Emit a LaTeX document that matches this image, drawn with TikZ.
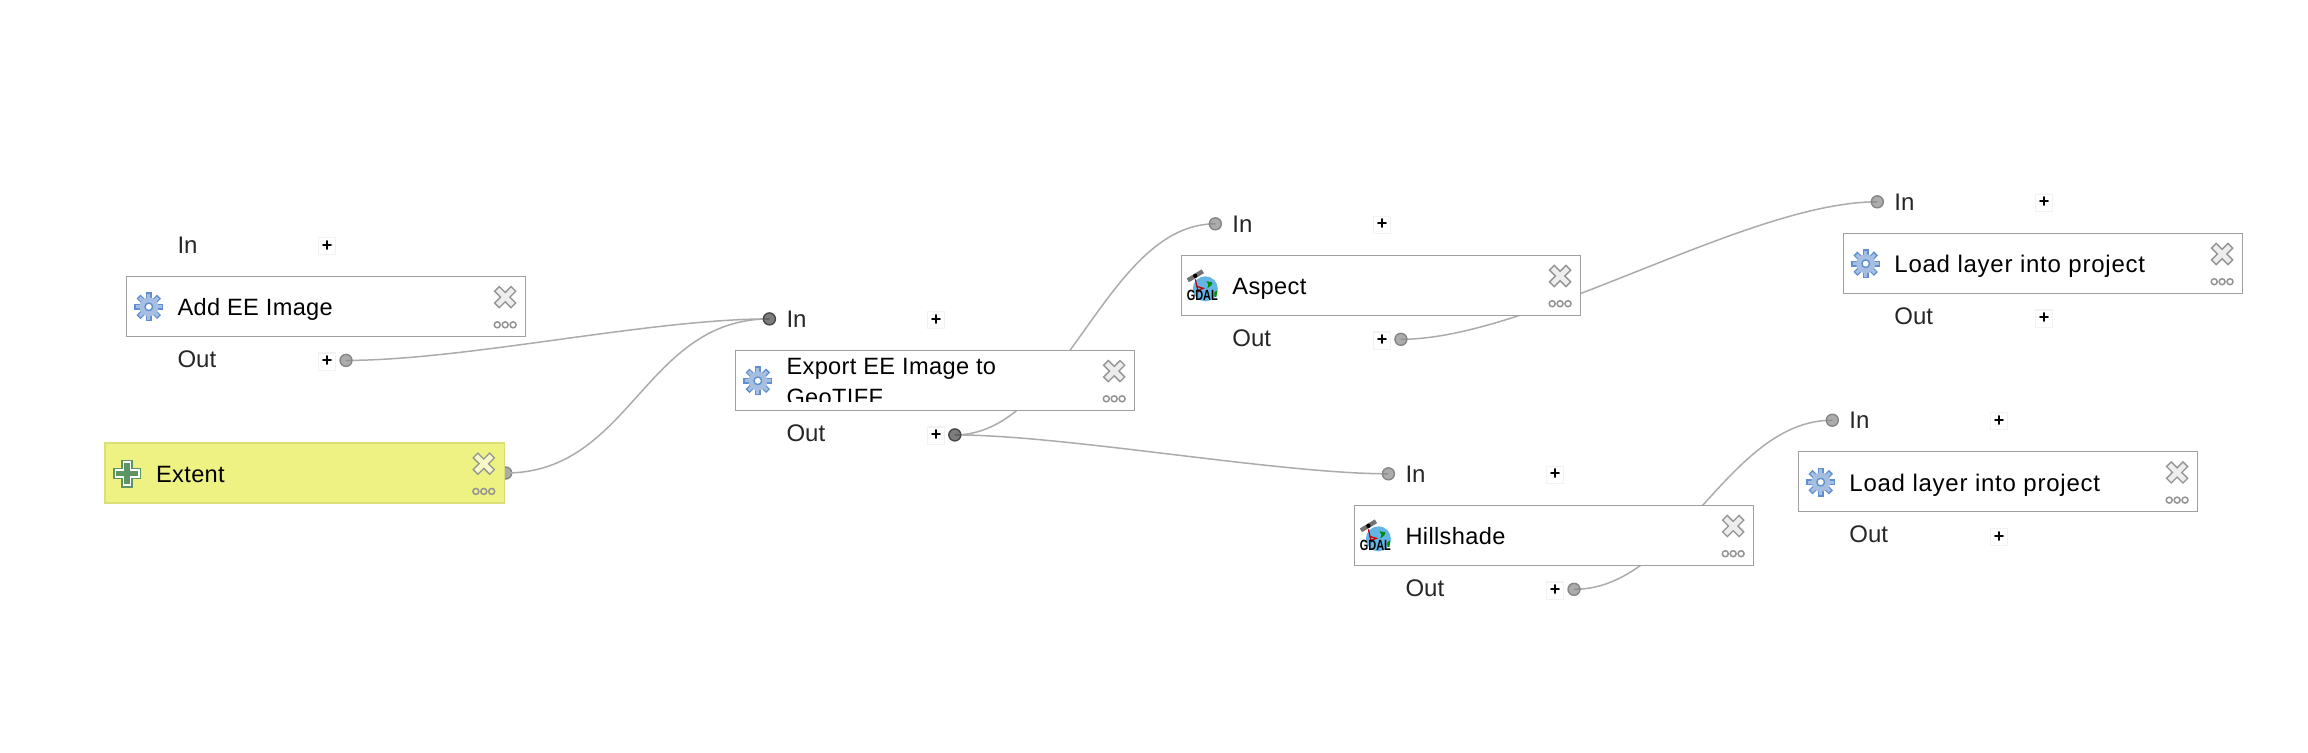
\documentclass[tikz,border=0pt]{standalone}
\usepackage{fontspec}
\setmainfont{Liberation Sans}
\usetikzlibrary{positioning,calc,backgrounds}
\definecolor{wiregray}{HTML}{ABABAB}
\definecolor{boxgray}{HTML}{A0A0A0}
\definecolor{icongray}{HTML}{949494}
\definecolor{extentfill}{HTML}{EEF283}
\definecolor{gearblue}{HTML}{5F8FD0}
\definecolor{gearfill}{HTML}{A5BEE2}
\definecolor{crossgreen}{HTML}{5C9464}
\definecolor{gdalblue}{HTML}{62B5E5}
\tikzset{
  box/.style={draw=boxgray, fill=white, line width=0.6pt, anchor=north west, inner sep=0pt, outer sep=0pt,
    minimum width=199.6pt, minimum height=30pt},
  title/.style={anchor=base west, inner sep=0pt, text=black,
    font=\fontsize{11.8}{14}\selectfont\addfontfeature{LetterSpace=1.5}},
  loadtitle/.style={title, font=\fontsize{12}{14}\selectfont\addfontfeature{LetterSpace=3.2}},
  lbl/.style={anchor=base west, inner sep=0pt, font=\fontsize{12}{14}\selectfont, text=black!85},
  plusbox/.style={draw=black!5, fill=white, line width=0.6pt, minimum size=8.6pt, inner sep=0pt,
    font=\fontsize{9}{9}\selectfont\bfseries},
  port/.style={circle, draw=black!48, fill=black!50, fill opacity=0.65, line width=0.7pt,
    minimum size=6pt, inner sep=0pt},
  portdark/.style={port, draw=black!72, fill=black!78},
  wire/.style={draw=wiregray, line width=0.75pt},
  pics/crossicon/.style={code={
      \foreach \a in {45,135}{\draw[icongray, line width=4pt, rotate=\a] (-12.3,0) -- (12.3,0);}
      \foreach \a in {45,135}{\draw[#1, line width=2.5pt, rotate=\a] (-10.8,0) -- (10.8,0);}
      \foreach \k in {-7.9,0,7.9}{\draw[icongray, line width=0.75pt] (\k,27.7) circle[radius=3];}
  }},
  pics/gearicon/.style={code={
      \foreach \a in {0,45,...,315}{\draw[gearblue, line width=2.8pt, rotate=\a] (0,0) -- (14.5,0);}
      \foreach \a in {0,45,...,315}{\draw[gearfill, line width=1.6pt, rotate=\a] (0,0) -- (13,0);}
      \fill[gearfill] (0,0) circle[radius=9.5];
      \draw[gearblue, fill=white, line width=0.7pt] (0,0) circle[radius=3.8];
  }},
  pics/addicon/.style={code={
      \foreach \a in {0,90}{\draw[crossgreen, line width=5.8pt, rotate=\a] (-14,0) -- (14,0);}
      \foreach \a in {0,90}{\draw[white, line width=4.3pt, rotate=\a] (-12.5,0) -- (12.5,0);}
      \foreach \a in {0,90}{\draw[crossgreen, line width=2.6pt, rotate=\a] (-10.8,0) -- (10.8,0);}
  }},
  pics/gdalicon/.style={code={
      \fill[gdalblue] (1,-3.5) circle[radius=12.5];
      \fill[green!55!black] (2,-11) -- (8,-10) -- (7,-7) -- (3,-4) -- (4,-8) -- cycle;
      \fill[green!55!black] (10,0) -- (13,-2) -- (12,5) -- (10,4) -- cycle;
      \draw[red!75!black, line width=0.6pt] (-9,-13) -- (-6,0);
      \draw[red!75!black, line width=0.6pt] (-8,-6) -- (-1,-4) -- (-6,-2);
      \draw[black!55, line width=2.2pt] (-16.5,-12) -- (-1.5,-21);
      \fill[black] (-9,-16.5) circle[radius=2.2];
  }},
}

\begin{document}
\begin{tikzpicture}[x=0.5pt,y=-0.5pt]
  \useasboundingbox (0,0) rectangle (2308,752);

  % model boxes
  \foreach \n/\x/\y in {add/126.4/276.4, export/735.4/350.4, aspect/1181.3/255.3, hillshade/1354.4/505.3,
      loada/1843.3/233.3, loadb/1798.3/451.7}{
    \node[box] (\n) at (\x,\y) {};
  }
  \node[box, draw=extentfill!92!black, fill=extentfill] (extent) at (105,443) {};

  % titles
  \foreach \n/\t in {add/Add EE Image, aspect/Aspect, hillshade/Hillshade, extent/Extent}{
    \node[title] (\n-title) at ($(\n.north west)+(50.7,39.4)$) {\t};
  }
  \foreach \n in {loada,loadb}{
    \node[loadtitle] (\n-title) at ($(\n.north west)+(50.7,39.4)$) {Load layer into project};
  }
  \begin{scope}
    \clip ($(export.north west)+(40,0)$) rectangle ($(export.north west)+(300,51.5)$);
    \node[title] (export-title) at ($(export.north west)+(50.7,24)$) {Export EE Image to};
    \node[title] (export-titleb) at ($(export.north west)+(50.7,54.8)$) {GeoTIFF};
  \end{scope}

  % icons
  \foreach \n in {add,export,loada,loadb}{
    \pic at ($(\n.north west)+(22.4,30.4)$) {gearicon};
  }
  \foreach \n in {aspect,hillshade}{
    \pic at ($(\n.north west)+(23,37)$) {gdalicon};
    \node[inner sep=0pt, anchor=base, xscale=0.74, transform shape,
      font=\fontsize{7.4}{7}\selectfont\bfseries] (\n-gdal) at ($(\n.north west)+(21,45.5)$) {GDAL};
  }
  \pic at ($(extent.north west)+(22,30.5)$) {addicon};
  \foreach \n in {add,export,aspect,hillshade,loada,loadb}{
    \pic at ($(\n.north east)+(-20.4,20.7)$) {crossicon=white!93!black};
  }
  \pic at ($(extent.north east)+(-20.4,20.7)$) {crossicon=extentfill!45!white};

  % in and out rows
  \foreach \n in {add,export,aspect,hillshade,loada,loadb}{
    \node[lbl] (\n-inlbl) at ($(\n.north west)+(50.7,-23.3)$) {In};
    \node[lbl] (\n-outlbl) at ($(\n.north west)+(50.7,91.2)$) {Out};
    \node[plusbox] (\n-inplus) at ($(\n.north west)+(200.7,-30.6)$) {+};
    \node[plusbox] (\n-outplus) at ($(\n.north west)+(200.7,85.2)$) {+};
  }

  % ports
  \foreach \n in {aspect,hillshade,loada,loadb}{
    \node[port] (\n-in) at ($(\n.north west)+(34,-31.5)$) {};
  }
  \foreach \n in {add,aspect,hillshade}{
    \node[port] (\n-out) at ($(\n.north west)+(219.6,84)$) {};
  }
  \node[portdark] (export-in) at ($(export.north west)+(34,-31.5)$) {};
  \node[portdark] (export-out) at ($(export.north west)+(219.4,84.5)$) {};

  % wires go under the boxes
  \begin{pgfonlayer}{background}
    \node[port] (extent-out) at ($(extent.north east)+(1.5,30)$) {};
    \draw[wire] (add-out.center) .. controls +(120,0) and +(-120,0) .. (export-in.center);
    \draw[wire] (extent-out.center) .. controls +(125,0) and +(-125,0) .. (export-in.center);
    \draw[wire] (export-out.center) .. controls +(110,0) and +(-110,0) .. (aspect-in.center);
    \draw[wire] (export-out.center) .. controls +(110,0) and +(-110,0) .. (hillshade-in.center);
    \draw[wire] (aspect-out.center) .. controls +(130,0) and +(-130,0) .. (loada-in.center);
    \draw[wire] (hillshade-out.center) .. controls +(105,0) and +(-105,0) .. (loadb-in.center);
  \end{pgfonlayer}
\end{tikzpicture}
\end{document}
